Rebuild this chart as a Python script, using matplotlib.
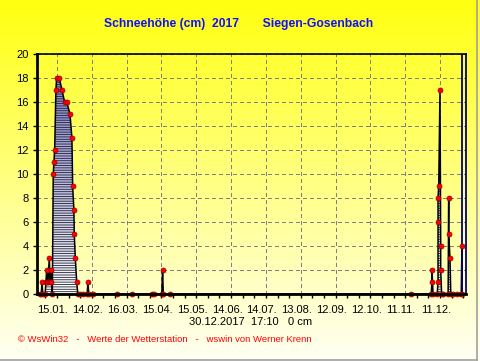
import numpy as np
import matplotlib
matplotlib.use("Agg")
import matplotlib.pyplot as plt
from matplotlib.colors import LinearSegmentedColormap
from matplotlib.patches import Polygon
from matplotlib.lines import Line2D
from matplotlib.transforms import ScaledTranslation

plt.rcParams['font.family'] = ['Liberation Sans', 'DejaVu Sans']
plt.rcParams['hatch.linewidth'] = 0.6

# day of year (fractional) and snow depth in cm
days = [0, 1.5, 2.1, 2.8, 4.8, 5.5, 6.1, 6.6, 7.2, 8.4, 9.0, 9.6, 10.2, 11.0,
        11.8, 12.4, 13.0, 14.1, 14.7, 17.0, 19.3, 21.6, 23.4, 26.2, 27.9,
        28.5, 29.6, 29.9, 30.8, 32.0, 33.0, 34.6, 37.2, 41.0, 41.7, 42.4,
        46.0, 66.6, 79.6, 96.8, 98.6, 105.3, 106.0, 106.6, 112.4, 319.8,
        337.4, 338.1, 338.1, 339.0, 342.6, 343.3, 343.3, 343.3, 343.9,
        345.0, 345.6, 345.6, 346.4, 348.0, 352.0, 352.5, 352.5, 353.6,
        354.3, 356.5, 360.0, 363.3, 363.9, 364.2]
snow = [0, 0, 1, 0, 0, 1, 2, 1, 1, 3, 1, 2, 1, 0,
        10, 11, 12, 17, 18, 18, 17, 16, 16, 15, 13,
        9, 7, 5, 3, 1, 0, 0, 0, 0, 1, 0,
        0, 0, 0, 0, 0, 0, 2, 0, 0, 0,
        0, 1, 2, 0, 0, 1, 6, 8, 9,
        17, 4, 2, 0, 0, 0, 8, 5, 3,
        0, 0, 0, 0, 4, 0]

tick_days = [15, 45, 75, 105, 135, 165, 195, 225, 255, 285, 315, 345]
tick_labels = ["15.01.", "14.02.", "16.03.", "15.04.", "15.05.", "14.06.",
               "14.07.", "13.08.", "12.09.", "12.10.", "11.11.", "11.12."]
today = 364

fig = plt.figure(figsize=(4.81, 3.61), dpi=100)

# yellow background gradient
bg = fig.add_axes([0, 0, 1, 1], zorder=-10)
bg_cmap = LinearSegmentedColormap.from_list("bg", ["#fffff4", "#ffff10"])
bg.imshow(np.linspace(0, 1, 256).reshape(-1, 1), aspect='auto', cmap=bg_cmap,
          extent=[0, 1, 0, 1], origin='lower')
bg.axis('off')

ax = fig.add_axes([37 / 481, 67 / 361, 429 / 481, 240 / 361])
ax.set_facecolor('none')
ax.set_xlim(-2.2, 367.4)
ax.set_ylim(0, 20)

# area fill: blue gradient clipped to the snow polygon, plus hatch
verts = [(days[0], 0)] + list(zip(days, snow)) + [(days[-1], 0)]
clip = Polygon(verts, closed=True, facecolor='none', edgecolor='none')
ax.add_patch(clip)
fill_cmap = LinearSegmentedColormap.from_list("fill", ["#ffffff", "#7070c4"])
im = ax.imshow(np.linspace(0, 1, 256).reshape(-1, 1), aspect='auto',
               cmap=fill_cmap, extent=[-2.2, 367.4, 0, 20], origin='lower',
               zorder=2)
im.set_clip_path(clip)
ax.add_patch(Polygon(verts, closed=True, facecolor='none', edgecolor='#202030',
                     hatch='-------', lw=0, zorder=3))

ax.plot(days, snow, color='black', lw=1.1, zorder=4)
ax.plot(days, snow, ls='none', marker='o', ms=3.6, mfc='#ff0000',
        mec='#900000', mew=0.5, zorder=5, clip_on=False)

ax.axvline(today, color='#000080', lw=1.3, zorder=4)

ax.set_yticks(range(0, 21, 2))
ax.set_xticks(tick_days)
ax.set_xticklabels(tick_labels)
ax.set_xticks(np.arange(5, 366, 10), minor=True)
ax.grid(True, which='major', color='#808080', ls=(0, (4, 4)), lw=0.72,
        antialiased=False)
ax.set_axisbelow(True)
ax.tick_params(axis='both', which='both', direction='out', length=3,
               width=1, labelsize=8, colors='black')
ax.tick_params(axis='x', which='major', pad=5)
ax.tick_params(axis='y', pad=3)
off = ScaledTranslation(-4 / 100, 0, fig.dpi_scale_trans)
for lab in ax.get_xticklabels():
    lab.set_transform(lab.get_transform() + off)

for s in ['left', 'bottom']:
    ax.spines[s].set_linewidth(2)
    ax.spines[s].set_zorder(6)
ax.spines['top'].set_linewidth(1.2)
ax.spines['right'].set_linewidth(1.3)
ax.spines['right'].set_color('#000080')

fig.text(0.497, 0.934, "Schneehöhe (cm)  2017       Siegen-Gosenbach",
         ha='center', va='center', color='#1010ff', fontsize=8.7,
         fontweight='bold')
fig.text(0.52, 1 - 322 / 361, "30.12.2017  17:10   0 cm", ha='center',
         va='center', fontsize=8, color='black')
fig.text(18 / 481, 1 - 340 / 361,
         "© WsWin32   -   Werte der Wetterstation   -   wswin von Werner Krenn",
         ha='left', va='center', fontsize=6.8, color='#ff0000')

fig.add_artist(Line2D([477.5 / 481, 477.5 / 481], [1.5 / 361, 1],
                      transform=fig.transFigure, color='#a0a0a0', lw=1.2))
fig.add_artist(Line2D([0, 477.5 / 481], [1.5 / 361, 1.5 / 361],
                      transform=fig.transFigure, color='#a0a0a0', lw=1.2))

fig.savefig("out.png", dpi=100)
